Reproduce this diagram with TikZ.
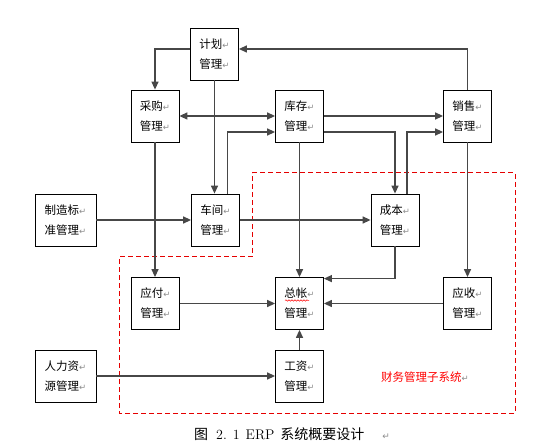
\documentclass[tikz,border=0pt]{standalone}
\usepackage{fontspec}
\newfontfamily\cjk{Noto Sans CJK SC}
\newfontfamily\djv{DejaVu Sans}
\usetikzlibrary{arrows.meta,decorations.pathmorphing}
\newcommand\rt{{\djv\color{black!45}\fontsize{8.5}{8}\selectfont ↵}}
\tikzset{
  mbox/.style={draw, line width=0.8pt, minimum width=48pt, minimum height=52pt, inner sep=0pt,
    align=center, font=\cjk\fontsize{11.5}{20}\selectfont},
  wbox/.style={mbox, minimum width=61pt},
  conn/.style={draw=black!72, line width=1.3pt, -{Triangle[length=8pt,width=7pt]}},
  conn2/.style={draw=black!72, line width=1.3pt, {Triangle[length=8pt,width=7pt]}-{Triangle[length=8pt,width=7pt]}},
  fin/.style={draw=red!90!black, line width=1pt, dash pattern=on 5pt off 3pt},
}
\begin{document}
\begin{tikzpicture}[x=1pt,y=-1pt]
\useasboundingbox (0,0) rectangle (543,443);
\fill[white] (0,0) rectangle (543,443);
% finance subsystem region
\draw[fin] (252,173) -- (515,173) -- (515,413) -- (119,413) -- (119,257) -- (252,257) -- cycle;
% nodes
\node[mbox] (jh) at (214.5,54) {计划\rt\\管理\rt};
\node[mbox] (cg) at (155,116) {采购\rt\\管理\rt};
\node[mbox] (kc) at (299.5,116) {库存\rt\\管理\rt};
\node[mbox] (xs) at (467.5,116) {销售\rt\\管理\rt};
\node[wbox] (zz) at (65.5,220) {制造标\rt\\准管理\rt};
\node[mbox] (cj) at (215.5,220) {车间\rt\\管理\rt};
\node[mbox] (cb) at (395,220) {成本\rt\\管理\rt};
\node[mbox] (yf) at (155.5,303.5) {应付\rt\\管理\rt};
\node[mbox] (zb) at (299.5,303.5) {总帐\rt\\管理\rt};
\node[mbox] (ys) at (467.5,303.5) {应收\rt\\管理\rt};
\node[wbox] (rl) at (65.5,376) {人力资\rt\\源管理\rt};
\node[mbox] (gz) at (299.5,376) {工资\rt\\管理\rt};
\node[font=\cjk\fontsize{11.5}{14}\selectfont, text=red, anchor=west, inner sep=0pt] (cw) at (381,377) {财务管理子系统\rt};
\node[anchor=west, inner sep=0pt, font=\fontsize{14}{16}\selectfont] (cap) at (194,434)
  {{\cjk 图}\hspace{8pt}2.\hspace{6pt}1\hspace{6pt}ERP\hspace{6pt}{\cjk 系统概要设计}\hspace{18pt}{\djv\color{black!45}\fontsize{9}{9}\selectfont ↵}};
% spellcheck underline
\draw[red, line width=0.5pt, decorate, decoration={snake, amplitude=0.7pt, segment length=3pt}] (285,300.5) -- (309,300.5);
% connectors
\draw[conn] (xs.north) |- ([yshift=5pt]jh.east);
\draw[conn] ([yshift=5pt]jh.west) -| (cg.north);
\draw[conn] (jh.south) -- (jh.south |- cj.north);
\draw[conn2] (cg.east) -- (kc.west);
\draw[conn] ([xshift=12pt]cj.north) |- ([yshift=-16pt]kc.west);
\draw[conn] (kc.east) -- (xs.west);
\draw[conn] ([yshift=-16pt]kc.east) -| (cb.north);
\draw[conn] ([xshift=12pt]cb.north) |- ([yshift=-16pt]xs.west);
\draw[conn] (cg.south) -- (cg.south |- yf.north);
\draw[conn] (kc.south) -- (zb.north);
\draw[conn] (xs.south) -- (ys.north);
\draw[conn] (zz.east) -- (cj.west);
\draw[conn] (cj.east) -- (cb.west);
\draw[conn] (cb.south) |- ([yshift=-1.5pt]zb.north east);
\draw[conn] (yf.east) -- (zb.west);
\draw[conn] (ys.west) -- (zb.east);
\draw[conn] (gz.north) -- (zb.south);
\draw[conn] (rl.east) -- (gz.west);
\end{tikzpicture}
\end{document}
